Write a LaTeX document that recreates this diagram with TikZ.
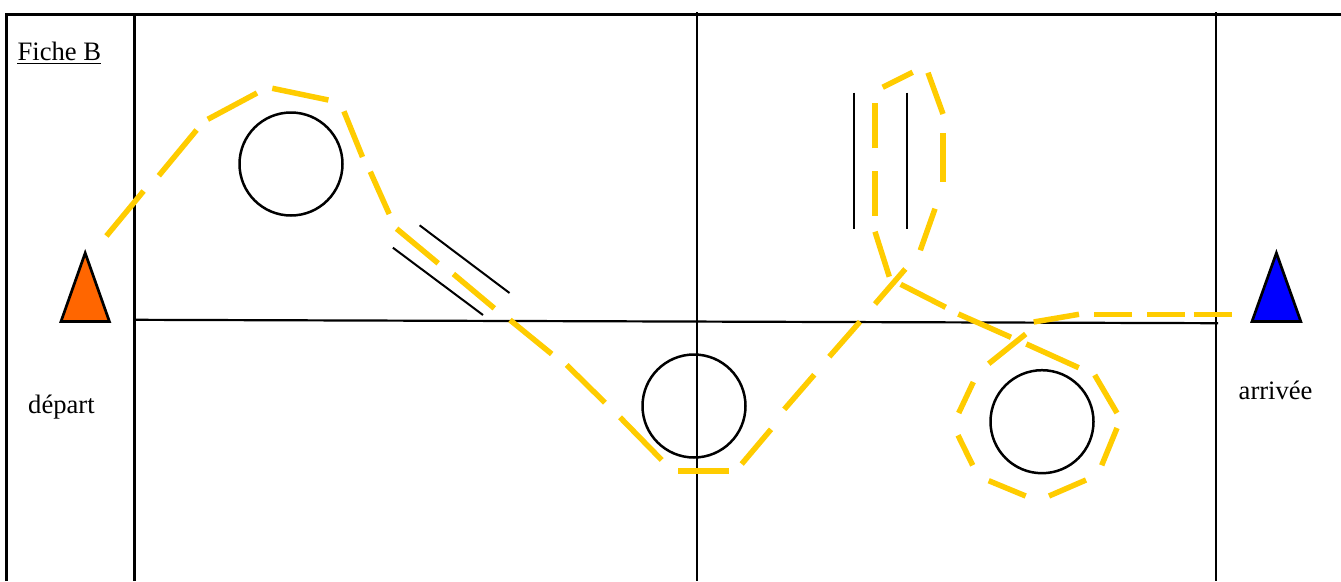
\documentclass[tikz,border=0pt]{standalone}
\usepackage{fontspec}
\usetikzlibrary{calc}
\setmainfont{Liberation Serif}
\definecolor{trackyellow}{HTML}{FFCC00}
\definecolor{startorange}{HTML}{FF6600}
\definecolor{endblue}{HTML}{0000FF}
\tikzset{
  framerule/.style={draw=black,line width=3.2pt},
  gridrule/.style={draw=black,line width=2.5pt},
  thinrule/.style={draw=black,line width=2pt},
  tracksegment/.style={draw=trackyellow,line width=5.5pt},
  obstacle/.style={draw=black,line width=2.5pt},
  conemark/.style={draw=black,line width=2.7pt,line join=miter},
  textlabel/.style={inner sep=0pt,anchor=base west,font=\fontsize{26.6pt}{30pt}\selectfont}
}
\begin{document}
\begin{tikzpicture}[x=1pt,y=-1pt]
\useasboundingbox (0,0) rectangle (1341,581);
% frame
\draw[framerule] (6.8,581) -- (6.8,14.7) -- (1341,14.7);
% grid
\draw[gridrule] (134.5,14) -- (134.5,581);
\draw[gridrule] (697,12) -- (697,581);
\draw[gridrule] (1216,12) -- (1216,581);
\draw[gridrule,line width=2.2pt] (134,319.8) -- (1218,323.2);
% obstacles
\draw[obstacle] (291,164) circle (51.5);
\draw[obstacle] (694,406) circle (51.5);
\draw[obstacle] (1042,421.7) circle (51.5);
% gates
\draw[thinrule] (419.6,225.3) -- (509.5,293);
\draw[thinrule] (392.9,247.7) -- (483,315);
\draw[thinrule] (854,92.7) -- (854,228.7);
\draw[thinrule] (907,92.7) -- (907,228.7);
% cones
\draw[conemark,fill=startorange] (85.2,253) -- (109.4,321.5) -- (61,321.5) -- cycle;
\draw[conemark,fill=endblue] (1276.4,253) -- (1300.8,321.5) -- (1252,321.5) -- cycle;
% track
\foreach \xa/\ya/\xb/\yb in {
  106.4/236/143.6/191, 158.8/175.7/196.6/130, 207.8/119.3/257/93, 272.3/88.3/328.4/100,
  343.9/111.3/362.5/157, 370.3/171.7/389.2/214, 396.6/228.7/438.2/263.3, 453.4/274/494.3/308.3,
  510/320/551.7/354, 566.7/365/605/402.7, 620/417.3/661.7/460, 678.3/471/729.3/471,
  741.7/464/771/429.3, 784.3/409.3/814.3/374.7, 829.3/356.7/860/321.7, 875/304/905.3/269,
  889.3/276.7/875/231.7, 875/215.7/875/171, 875/148.3/875/102.7, 882.7/87.3/912.7/72.3,
  928/72.7/943/114, 943/133/943/182, 935/208.7/920.3/250.3, 900.7/284.3/945.7/307.3,
  958.3/314/1011/337.3, 1025.7/334/988.7/363.7, 1026.3/344/1078.7/367.7, 1094.7/375/1117/413,
  1117/428/1101.7/465.3, 1086/480/1049/496, 1025.7/496/988.7/480.7, 972.7/465.3/958/435.3,
  958.7/413/973.3/382, 1033.7/322/1079/314.3, 1094/314.3/1132/314.3, 1147/314.3/1185/314.3,
  1193.7/314.3/1231.7/314.3}
  \draw[tracksegment] (\xa,\ya) -- (\xb,\yb);
% labels
\node[textlabel] (fiche) at (17.4,60) {Fiche B};
\draw[line width=1.5pt] ($(fiche.base west)+(0,3.3)$) -- ($(fiche.base east)+(0,3.3)$);
\node[textlabel] (depart) at (28,413) {départ};
\node[textlabel] (arrivee) at (1238.5,399) {arrivée};
\end{tikzpicture}
\end{document}
